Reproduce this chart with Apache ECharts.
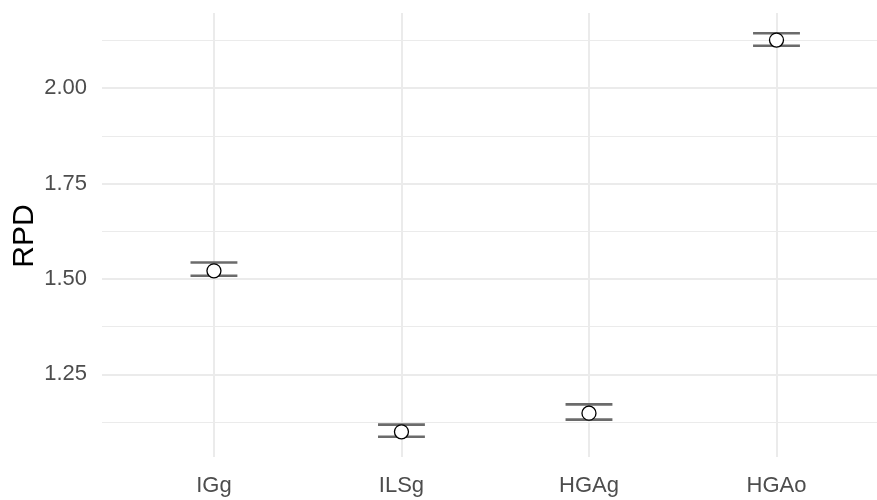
<!DOCTYPE html>
<html><head><meta charset="utf-8">
<script src="https://cdn.jsdelivr.net/npm/echarts@6/dist/echarts.min.js"></script>
<style>html,body{margin:0;padding:0;background:#fff}#c{width:877px;height:500px}</style>
</head><body><div id="c"></div>
<script>
const categories = ['IGg', 'ILSg', 'HGAg', 'HGAo'];
const meanRPD  = [1.521, 1.099, 1.148, 2.126];
const lowerRPD = [1.508, 1.086, 1.131, 2.111];
const upperRPD = [1.543, 1.118, 1.171, 2.144];
const yMajorTicks = [1.25, 1.50, 1.75, 2.00];
const yMinorTicks = [1.125, 1.375, 1.625, 1.875, 2.125];
const yTitle = 'RPD';

const lo = Math.min(...lowerRPD), hi = Math.max(...upperRPD);
const pad = (hi - lo) * 0.05;
const yMin = lo - pad, yMax = hi + pad;
const xPos = categories.map((c, i) => i + 1);

const FONT = "'Liberation Sans', Arial, sans-serif";
const GRID = '#ebebeb';

const chart = echarts.init(document.getElementById('c'), null, {renderer: 'canvas'});
chart.setOption({
  animation: false,
  backgroundColor: '#fff',
  textStyle: {fontFamily: FONT},
  grid: {left: 102, top: 13, right: 0, height: 444, containLabel: false, outerBoundsMode: 'none'},
  graphic: [{
    type: 'text', x: 24.5, y: 236, rotation: Math.PI / 2, silent: true,
    style: {text: yTitle, fontSize: 30, fontFamily: FONT, fill: '#000',
      align: 'center', verticalAlign: 'middle'}
  }],
  xAxis: {
    type: 'value', min: 0.403, max: 4.536,
    axisLine: {show: false},
    axisTick: {show: false, customValues: xPos},
    axisLabel: {customValues: xPos, formatter: v => categories[Math.round(v) - 1],
      fontSize: 22, color: '#4d4d4d', margin: 18, fontFamily: FONT},
    splitLine: {show: true, lineStyle: {color: GRID, width: 2}}
  },
  yAxis: [{
    type: 'value', min: yMin, max: yMax,
    axisLine: {show: false},
    axisTick: {show: false, customValues: yMajorTicks},
    axisLabel: {customValues: yMajorTicks, formatter: v => v.toFixed(2),
      fontSize: 22, color: '#4d4d4d', margin: 15, fontFamily: FONT},
    splitLine: {show: true, lineStyle: {color: GRID, width: 2}}
  }, {
    type: 'value', min: yMin, max: yMax, position: 'left',
    axisLine: {show: false},
    axisTick: {show: false, customValues: yMinorTicks},
    axisLabel: {show: false, customValues: yMinorTicks},
    splitLine: {show: true, lineStyle: {color: GRID, width: 1.2}}
  }],
  series: [{
    type: 'custom',
    yAxisIndex: 0,
    data: xPos.map((x, i) => [x, lowerRPD[i], upperRPD[i]]),
    encode: {x: 0, y: [1, 2]},
    z: 2,
    renderItem: function (params, api) {
      const x = api.value(0);
      const pL = api.coord([x, api.value(1)]);
      const pH = api.coord([x, api.value(2)]);
      const hw = api.size([0.125, 0])[0];
      const style = {stroke: '#6b6b6b', lineWidth: 2.6, fill: null};
      return {type: 'group', children: [
        {type: 'line', shape: {x1: pL[0], y1: pL[1], x2: pH[0], y2: pH[1]}, style: style},
        {type: 'line', shape: {x1: pH[0] - hw, y1: pH[1], x2: pH[0] + hw, y2: pH[1]}, style: style},
        {type: 'line', shape: {x1: pL[0] - hw, y1: pL[1], x2: pL[0] + hw, y2: pL[1]}, style: style}
      ]};
    }
  }, {
    type: 'scatter',
    yAxisIndex: 0,
    z: 3,
    data: xPos.map((x, i) => [x, meanRPD[i]]),
    symbol: 'circle', symbolSize: 14,
    itemStyle: {color: '#fff', borderColor: '#000', borderWidth: 1.3, opacity: 1}
  }]
});
</script></body></html>
